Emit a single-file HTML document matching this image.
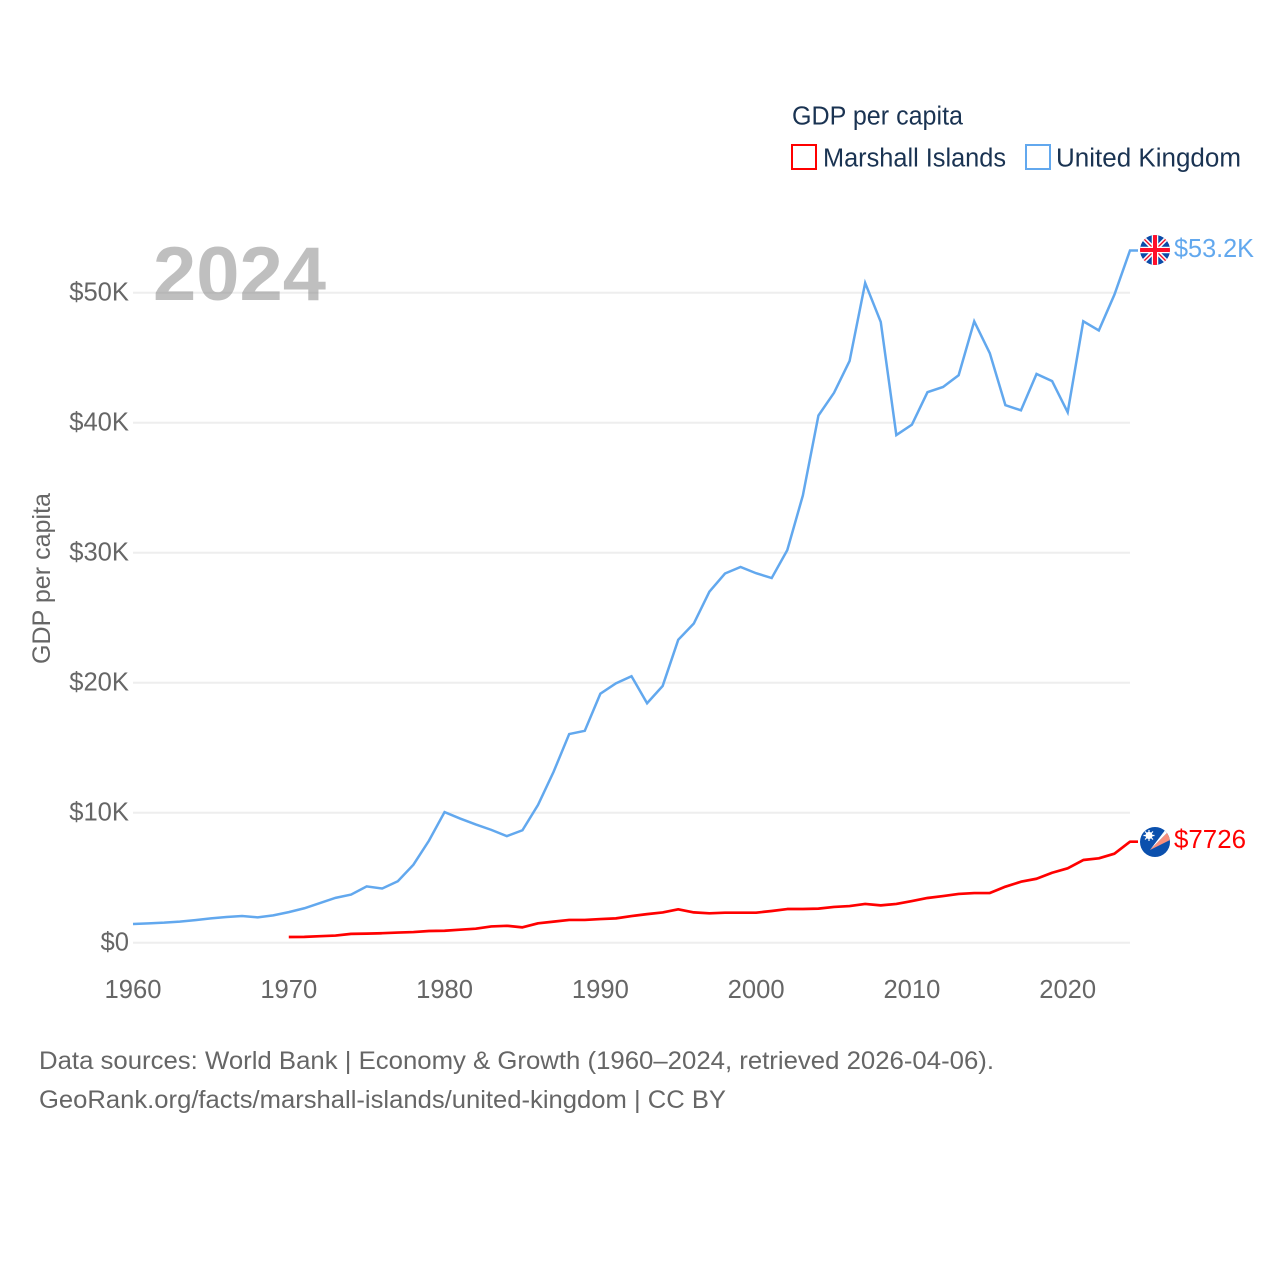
<!DOCTYPE html>
<html lang="en">
<head>
<meta charset="utf-8">
<title>GDP per capita: Marshall Islands and United Kingdom</title>
<style>
html,body{margin:0;padding:0;background:#fff;}
svg{display:block;font-family:"Liberation Sans",sans-serif;}
</style>
</head>
<body>
<svg id="chart" xmlns="http://www.w3.org/2000/svg" width="1280" height="1280" viewBox="0 0 1280 1280">
  <defs>
    <clipPath id="flag-clip-uk"><circle cx="1155" cy="250" r="15"/></clipPath>
    <clipPath id="flag-clip-mh"><circle cx="1155" cy="842" r="15"/></clipPath>
  </defs>
  <rect x="0" y="0" width="1280" height="1280" fill="#fff"/>
  <g id="grid"></g>
  <g id="yticks"></g>
  <g id="xticks"></g>
  <text transform="translate(50,664) rotate(-90)" font-size="25" fill="#666" textLength="171" lengthAdjust="spacingAndGlyphs">GDP per capita</text>

  <g id="series"></g>

  <text x="153" y="300" font-size="76" font-weight="700" fill="#808080" fill-opacity="0.5" textLength="173" lengthAdjust="spacingAndGlyphs">2024</text>

  <g>
    <text x="792" y="124.5" font-size="25.5" fill="#1a3352" textLength="171" lengthAdjust="spacingAndGlyphs">GDP per capita</text>
    <g>
      <rect x="792" y="145" width="24" height="24" fill="#fff" stroke="#ff0000" stroke-width="2"/>
      <text x="823" y="166.5" font-size="25.5" fill="#1a3352" textLength="183" lengthAdjust="spacingAndGlyphs">Marshall Islands</text>
    </g>
    <g>
      <rect x="1026" y="145" width="24" height="24" fill="#fff" stroke="#62a8ee" stroke-width="2"/>
      <text x="1056" y="166.5" font-size="25.5" fill="#1a3352" textLength="185" lengthAdjust="spacingAndGlyphs">United Kingdom</text>
    </g>
  </g>

  <g clip-path="url(#flag-clip-uk)">
    <rect x="1139" y="234" width="32" height="32" fill="#0b4aa8"/>
    <path d="M1142 237L1168 263M1168 237L1142 263" stroke="#fff" stroke-width="4.5"/>
    <path d="M1142 237L1168 263M1168 237L1142 263" stroke="#f0102a" stroke-width="1.4"/>
    <path d="M1155 234V266M1139 250H1171" stroke="#fff" stroke-width="6.5"/>
    <path d="M1155 234V266M1139 250H1171" stroke="#ff0f2a" stroke-width="4"/>
  </g>
  <text x="1174" y="257" font-size="25.5" fill="#62a8ee" textLength="80" lengthAdjust="spacingAndGlyphs">$53.2K</text>

  <g clip-path="url(#flag-clip-mh)">
    <rect x="1139" y="826" width="32" height="32" fill="#0b50ad"/>
    <polygon points="1150,850 1166,829 1168,832" fill="#fff"/>
    <polygon points="1150,850 1168,832 1170,840" fill="#f98f7c"/>
    <circle cx="1149" cy="835.5" r="3.6" fill="#fff"/>
    <path d="M1149 830V841M1143.5 835.5H1154.5M1145 831.5L1153 839.5M1153 831.5L1145 839.5" stroke="#fff" stroke-width="1.2"/>
  </g>
  <text x="1174" y="848" font-size="25.5" fill="#ff0000" textLength="72" lengthAdjust="spacingAndGlyphs">$7726</text>

  <g>
    <text x="39" y="1069" font-size="25" fill="#666" textLength="955" lengthAdjust="spacingAndGlyphs">Data sources: World Bank | Economy &amp; Growth (1960–2024, retrieved 2026-04-06).</text>
    <text x="39" y="1108" font-size="25" fill="#666" textLength="687" lengthAdjust="spacingAndGlyphs">GeoRank.org/facts/marshall-islands/united-kingdom | CC BY</text>
  </g>
</svg>
<script>
const yTickValues = [0, 10, 20, 30, 40, 50];
const yTickLabels = ["$0", "$10K", "$20K", "$30K", "$40K", "$50K"];
const xTickYears = [1960, 1970, 1980, 1990, 2000, 2010, 2020];
const ukStartYear = 1960;
const ukValues = [1.44,1.49,1.54,1.62,1.74,1.87,1.98,2.05,1.95,2.1,2.35,2.65,3.05,3.45,3.7,4.33,4.17,4.73,6.0,7.85,10.05,9.55,9.1,8.68,8.2,8.65,10.6,13.15,16.05,16.3,19.15,19.95,20.5,18.42,19.75,23.3,24.55,27.0,28.4,28.9,28.42,28.05,30.2,34.4,40.55,42.3,44.75,50.75,47.75,39.05,39.85,42.35,42.75,43.65,47.8,45.35,41.35,40.95,43.75,43.2,40.8,47.8,47.1,49.85,53.25];
const mhStartYear = 1970;
const mhValues = [0.44,0.45,0.5,0.55,0.68,0.7,0.73,0.78,0.82,0.9,0.92,1.0,1.08,1.25,1.3,1.18,1.49,1.62,1.75,1.75,1.82,1.87,2.05,2.2,2.33,2.57,2.33,2.26,2.31,2.31,2.31,2.44,2.59,2.59,2.62,2.75,2.82,2.98,2.87,2.98,3.2,3.44,3.59,3.75,3.82,3.82,4.31,4.69,4.92,5.38,5.72,6.36,6.49,6.85,7.77];

const NS = "http://www.w3.org/2000/svg";
const plotLeft = 133, plotRight = 1130, plotBottom = 942.7, pxPerThousand = 13;
const minYear = 1960, maxYear = 2024;
function xScale(year) { return plotLeft + (year - minYear) * (plotRight - plotLeft) / (maxYear - minYear); }
function yScale(value) { return plotBottom - value * pxPerThousand; }

const gridGroup = document.getElementById("grid");
const yGroup = document.getElementById("yticks");
yTickValues.forEach(function (v, i) {
  const line = document.createElementNS(NS, "line");
  
  
  line.setAttribute("x1", plotLeft);
  line.setAttribute("x2", plotRight);
  line.setAttribute("y1", yScale(v));
  line.setAttribute("y2", yScale(v));
  line.setAttribute("stroke", "#eeeeee");
  line.setAttribute("stroke-width", "2");
  gridGroup.appendChild(line);
  const label = document.createElementNS(NS, "text");
  
  
  label.setAttribute("x", 129);
  label.setAttribute("y", yScale(v) + 8);
  label.setAttribute("text-anchor", "end");
  label.setAttribute("font-size", "25.6");
  label.setAttribute("fill", "#666");
  label.textContent = yTickLabels[i];
  yGroup.appendChild(label);
});

const xGroup = document.getElementById("xticks");
xTickYears.forEach(function (year) {
  const label = document.createElementNS(NS, "text");
  
  
  label.setAttribute("x", xScale(year));
  label.setAttribute("y", 998);
  label.setAttribute("text-anchor", "middle");
  label.setAttribute("font-size", "25.6");
  label.setAttribute("fill", "#666");
  label.textContent = String(year);
  xGroup.appendChild(label);
});

function linePath(values, startYear) {
  const pts = values.map(function (v, i) { return xScale(startYear + i).toFixed(2) + "," + yScale(v).toFixed(2); });
  const last = values[values.length - 1];
  pts.push((plotRight + 8) + "," + yScale(last).toFixed(2));
  return "M" + pts.join("L");
}

const seriesGroup = document.getElementById("series");
const ukLine = document.createElementNS(NS, "path");


ukLine.setAttribute("d", linePath(ukValues, ukStartYear));
ukLine.setAttribute("fill", "none");
ukLine.setAttribute("stroke", "#62a8ee");
ukLine.setAttribute("stroke-width", "2.5");
ukLine.setAttribute("stroke-linejoin", "miter");
seriesGroup.appendChild(ukLine);

const mhLine = document.createElementNS(NS, "path");


mhLine.setAttribute("d", linePath(mhValues, mhStartYear));
mhLine.setAttribute("fill", "none");
mhLine.setAttribute("stroke", "#ff0000");
mhLine.setAttribute("stroke-width", "2.7");
mhLine.setAttribute("stroke-linejoin", "round");
seriesGroup.appendChild(mhLine);
</script>
</body>
</html>
